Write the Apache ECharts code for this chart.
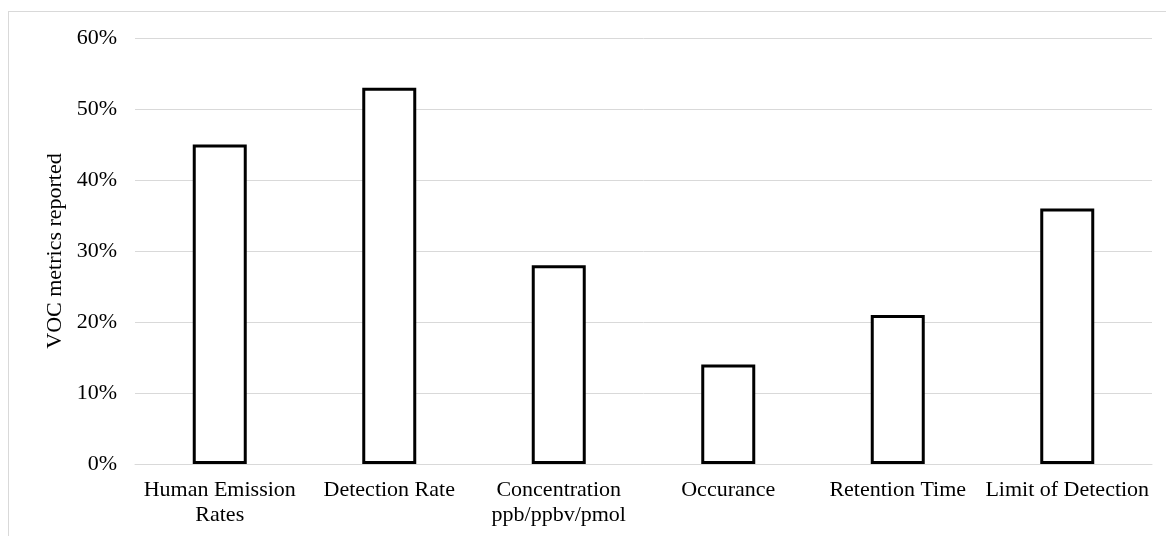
<!DOCTYPE html>
<html>
<head>
<meta charset="utf-8">
<script src="https://cdn.jsdelivr.net/npm/echarts@6/dist/echarts.min.js"></script>
<style>
  html, body { margin: 0; padding: 0; background: #fff; }
  #frame { position: absolute; left: 8px; top: 11px; width: 1200px; height: 600px; border: 1px solid #d9d9d9; box-sizing: border-box; }
  #chart { position: absolute; left: 0; top: 0; width: 1166px; height: 536px; }
</style>
</head>
<body>
<div id="frame"></div>
<div id="chart"></div>
<script>
// Share of studies reporting each VOC metric
const categories = [
  'Human Emission\nRates',
  'Detection Rate',
  'Concentration\nppb/ppbv/pmol',
  'Occurance',
  'Retention Time',
  'Limit of Detection'
];
const reported = [45, 53, 28, 14, 21, 36];
const yTicks = { min: 0, max: 60, interval: 10 };

const font = '"Liberation Serif", "Times New Roman", serif';
const chart = echarts.init(document.getElementById('chart'), null, { renderer: 'canvas' });
chart.setOption({
  backgroundColor: 'transparent',
  animation: false,
  grid: { left: 135, right: 14, top: 38, bottom: 72, containLabel: false },
  xAxis: {
    type: 'category',
    data: categories,
    axisLine: { show: true, lineStyle: { color: '#d9d9d9', width: 1 } },
    axisTick: { show: false },
    axisLabel: {
      interval: 0,
      color: '#000',
      fontFamily: font,
      fontSize: 22,
      lineHeight: 25,
      margin: 14
    }
  },
  yAxis: {
    type: 'value',
    min: yTicks.min,
    max: yTicks.max,
    interval: yTicks.interval,
    name: 'VOC metrics reported',
    nameLocation: 'middle',
    nameGap: 66,
    nameTextStyle: { color: '#000', fontFamily: font, fontSize: 22 },
    axisLine: { show: false },
    axisTick: { show: false },
    splitLine: { lineStyle: { color: '#d9d9d9', width: 1 } },
    axisLabel: {
      color: '#000',
      fontFamily: font,
      fontSize: 22,
      margin: 18,
      formatter: v => v + '%'
    }
  },
  series: [{
    type: 'bar',
    data: reported,
    barWidth: 54,
    itemStyle: { color: '#fff', borderColor: '#000', borderWidth: 3 }
  }]
});
</script>
</body>
</html>
